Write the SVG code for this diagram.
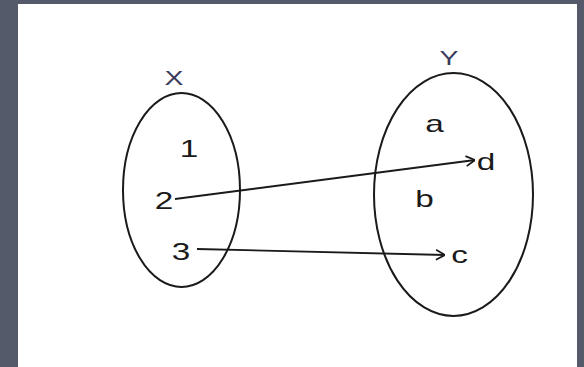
<svg xmlns="http://www.w3.org/2000/svg" width="584" height="367" viewBox="0 0 584 367">
<style>
.set{fill:none;stroke:#1a1a1a;stroke-width:2}
.lbl{font-family:"Liberation Sans",Arial,sans-serif;font-size:23px;fill:#1a1a1a;text-anchor:middle}
.name{font-family:"Liberation Sans",Arial,sans-serif;font-size:21px;fill:#3a3a5a;text-anchor:middle}
.conn{fill:none;stroke:#1a1a1a;stroke-width:1.8}
</style>
<defs>
<marker id="arr" viewBox="0 0 10 12" refX="10" refY="6" markerWidth="10" markerHeight="12" markerUnits="userSpaceOnUse" orient="auto">
<path d="M1,1 L10,6 L1,11" fill="none" stroke="#1a1a1a" stroke-width="1.8"/>
</marker>
</defs>
<rect x="0" y="0" width="584" height="367" fill="#555a6b"/>
<rect x="18" y="4" width="559" height="363" fill="#ffffff"/>
<g id="setX">
<ellipse class="set" cx="181.5" cy="190" rx="58.5" ry="97"/>
<text class="name" transform="translate(174,85) scale(1.35,1)">X</text>
</g>
<g id="setY">
<ellipse class="set" cx="453.5" cy="194.5" rx="79.5" ry="121.5"/>
<text class="name" transform="translate(449,65) scale(1.35,1)">Y</text>
</g>
<g id="n1"><text class="lbl" transform="translate(189,157) scale(1.45,1)">1</text></g>
<g id="n2"><text class="lbl" transform="translate(164,209) scale(1.45,1)">2</text></g>
<g id="n3"><text class="lbl" transform="translate(181,260) scale(1.45,1)">3</text></g>
<g id="na"><text class="lbl" transform="translate(434.5,132) scale(1.45,1)">a</text></g>
<g id="nd"><text class="lbl" transform="translate(486,170) scale(1.45,1)">d</text></g>
<g id="nb"><text class="lbl" transform="translate(424.5,207) scale(1.45,1)">b</text></g>
<g id="nc"><text class="lbl" transform="translate(459.5,263) scale(1.45,1)">c</text></g>
<g id="connectors">
<line class="conn" x1="175" y1="199" x2="475" y2="160" marker-end="url(#arr)"/>
<line class="conn" x1="197" y1="249" x2="445" y2="255" marker-end="url(#arr)"/>
</g>
</svg>
